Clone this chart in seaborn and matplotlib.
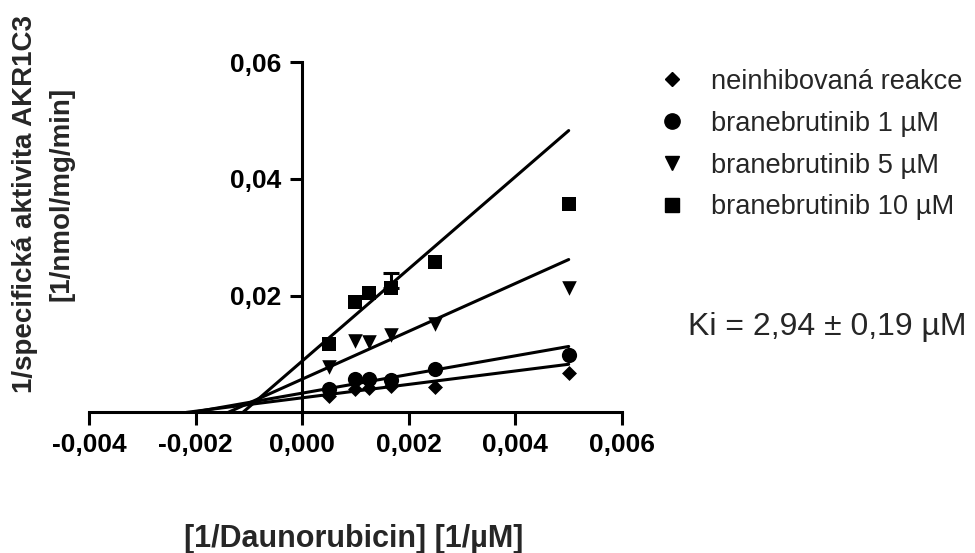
import numpy as np
import pandas as pd
import matplotlib
matplotlib.use("Agg")
import matplotlib.pyplot as plt
from matplotlib.lines import Line2D
import seaborn as sns

# ---------------- data ----------------
inv_substrate = [0.0005, 0.001, 0.00125, 0.001667, 0.0025, 0.005]
series_names = ["neinhibovaná reakce", "branebrutinib 1 \u00b5M",
                "branebrutinib 5 \u00b5M", "branebrutinib 10 \u00b5M"]
y_uninhibited = [0.0028, 0.0040, 0.0041, 0.0046, 0.0044, 0.0067]
y_bran1 = [0.0040, 0.0057, 0.0057, 0.0056, 0.0074, 0.0099]
y_bran5 = [0.0078, 0.0123, 0.0120, 0.0132, 0.0152, 0.0214]
y_bran10 = [0.0117, 0.0190, 0.0205, 0.0214, 0.0257, 0.0358]
err_bran10 = [0.0, 0.0, 0.0, 0.0025, 0.0, 0.0]
# fitted Lineweaver-Burk lines: y = slope * x + intercept
fit_slopes = [1.15, 1.60, 4.10, 7.90]
fit_intercepts = [0.0025, 0.0033, 0.0057, 0.0088]
fit_x_end = 0.005
x_ticks = [-0.004, -0.002, 0.0, 0.002, 0.004, 0.006]
x_ticklabels = ["-0,004", "-0,002", "0,000", "0,002", "0,004", "0,006"]
y_ticks = [0.02, 0.04, 0.06]
y_ticklabels = ["0,02", "0,04", "0,06"]
ki_text = "Ki = 2,94 \u00b1 0,19 \u00b5M"

series_values = [y_uninhibited, y_bran1, y_bran5, y_bran10]
markers = ["D", "o", "v", "s"]
marker_sizes = [58, 120, 110, 110]
legend_msizes = [7.0, 11.0, 10.0, 9.5]

df = pd.DataFrame({
    "x": np.tile(inv_substrate, 4),
    "y": np.concatenate(series_values),
    "series": np.repeat(series_names, len(inv_substrate)),
})

# ---------------- figure ----------------
sns.set_style("white")
plt.rcParams["font.family"] = ["Liberation Sans", "DejaVu Sans"]

W, H = 975, 553
fig = plt.figure(figsize=(W / 100, H / 100), dpi=100)
ax = fig.add_axes([89 / W, 1 - 412.4 / H, (622 - 89) / W, (412.4 - 62.3) / H])

lw = 2.2
for name, m, s, slope, icpt in zip(series_names, markers, marker_sizes,
                                   fit_slopes, fit_intercepts):
    x0 = -icpt / slope
    line_df = pd.DataFrame({"x": [x0, fit_x_end],
                            "y": [0.0, slope * fit_x_end + icpt]})
    sns.lineplot(data=line_df, x="x", y="y", color="black", linewidth=lw,
                 ax=ax, zorder=2)
    sns.scatterplot(data=df[df["series"] == name], x="x", y="y",
                    marker=m, s=s, color="black", linewidth=0, ax=ax,
                    zorder=3, legend=False)

# error bar (upper only, as in the reference)
err = np.array(err_bran10)
mask = err > 0
ax.errorbar(np.array(inv_substrate)[mask], np.array(y_bran10)[mask],
            yerr=[np.zeros(mask.sum()), err[mask]], fmt="none",
            ecolor="black", elinewidth=lw, capsize=5.5, capthick=lw, zorder=2)

# spines first (set_position resets tick properties)
for side in ["top", "right"]:
    ax.spines[side].set_visible(False)
ax.spines["left"].set_position(("data", 0))
for side in ["left", "bottom"]:
    ax.spines[side].set_linewidth(lw)
    ax.spines[side].set_color("black")

ax.set_xlim(-0.004, 0.006)
ax.set_ylim(0, 0.06)
ax.set_xticks(x_ticks)
ax.set_xticklabels(x_ticklabels)
ax.set_yticks(y_ticks)
ax.set_yticklabels(y_ticklabels)
ax.set_xlabel("")
ax.set_ylabel("")
ax.tick_params(axis="both", which="major", direction="out", length=9,
               width=lw, color="black", labelcolor="black", pad=6,
               labelsize=19, bottom=True, left=True, top=False, right=False)
for lab in ax.get_xticklabels() + ax.get_yticklabels():
    lab.set_fontweight("bold")
ax.patch.set_alpha(0)

# axis titles
fig.text(354 / W, 1 - 539 / H, "[1/Daunorubicin] [1/\u00b5M]",
         ha="center", va="center", fontsize=22, fontweight="bold")
fig.text(25 / W, 1 - 204 / H, "1/specifická aktivita AKR1C3",
         ha="center", va="center", rotation=90, fontsize=20, fontweight="bold")
fig.text(62 / W, 1 - 194 / H, "[1/nmol/mg/min]",
         ha="center", va="center", rotation=90, fontsize=20, fontweight="bold")

# legend
handles = [Line2D([], [], marker=m, color="black", linestyle="none",
                  markersize=ms) for m, ms in zip(markers, legend_msizes)]
fig.legend(handles, series_names, loc="upper left",
           bbox_to_anchor=(658 / W, 1 - 69 / H), frameon=False,
           fontsize=19.6, handlelength=1.0, handletextpad=0.95,
           labelspacing=0.58, borderpad=0, borderaxespad=0)

fig.text(688 / W, 1 - 335 / H, ki_text, ha="left", va="baseline", fontsize=23)

fig.savefig("out.png", dpi=100)
